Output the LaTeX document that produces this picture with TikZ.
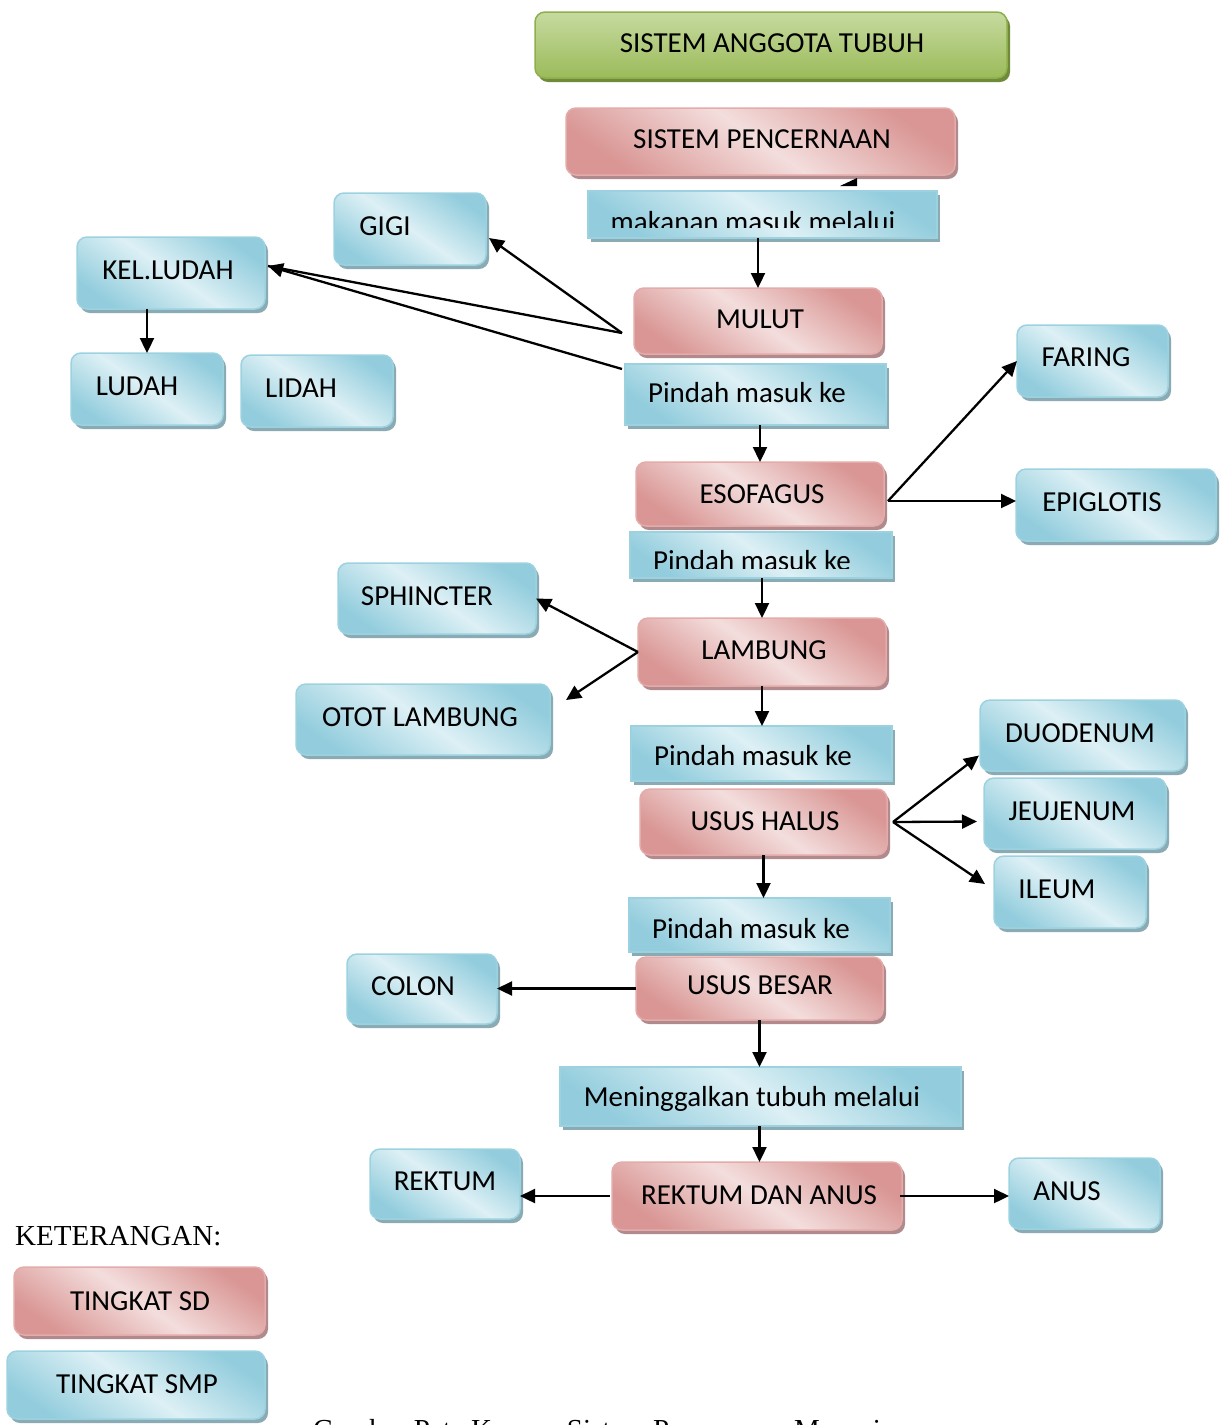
\documentclass[tikz,border=0pt]{standalone}
\usepackage{fontspec}
\setmainfont{Liberation Serif}
\newfontfamily\calfont{Carlito}
\usetikzlibrary{arrows.meta,shadows,calc}
\definecolor{pinkL}{HTML}{F3DEDD}
\definecolor{pinkD}{HTML}{D99694}
\definecolor{pinkS}{HTML}{B08A8C}
\definecolor{pinkB}{HTML}{E3ABA9}
\definecolor{blueL}{HTML}{DDF0F5}
\definecolor{blueD}{HTML}{93CDDD}
\definecolor{blueS}{HTML}{8AAAB4}
\definecolor{blueB}{HTML}{9CD2E0}
\definecolor{greenL}{HTML}{C6DAA0}
\definecolor{greenD}{HTML}{9BBB59}
\definecolor{greenS}{HTML}{6F8A38}
\definecolor{greenB}{HTML}{8DAF4C}
\tikzset{
  basebox/.style={inner sep=0pt, outer sep=0pt, line width=1.5pt},
  pinkbox/.style={basebox, rounded corners=10pt, draw=pinkB,
    top color=pinkD, bottom color=pinkD, middle color=pinkL, shading angle=-35,
    drop shadow={shadow xshift=3pt, shadow yshift=-4pt, fill=pinkS, opacity=1}},
  bluebox/.style={basebox, rounded corners=10pt, draw=blueB,
    top color=blueD, bottom color=blueD, middle color=blueL, shading angle=-35,
    drop shadow={shadow xshift=3pt, shadow yshift=-4pt, fill=blueS, opacity=1}},
  bluerect/.style={basebox, draw=blueB,
    top color=blueD, bottom color=blueD, middle color=blueL, shading angle=-35,
    drop shadow={shadow xshift=3pt, shadow yshift=-4pt, fill=blueS, opacity=1}},
  greenbox/.style={basebox, rounded corners=10pt, draw=greenB,
    top color=greenL, bottom color=greenD, shading angle=0,
    drop shadow={shadow xshift=3pt, shadow yshift=-4pt, fill=greenS, opacity=1}},
  txt/.style={font=\calfont\fontsize{29}{34}\selectfont, inner sep=0pt, anchor=base},
  serif/.style={font=\fontsize{29}{34}\selectfont, inner sep=0pt, anchor=base west},
  arr/.style={line width=2.3pt, -{Triangle[length=15pt,width=14pt]}},
  ln/.style={line width=2.3pt},
}
\newcommand\mybox[6]{\node[#1, minimum width={#5-#3}, minimum height={#6-#4}] (#2) at ({(#3+#5)/2},{(#4+#6)/2}) {};}
\begin{document}
\begin{tikzpicture}[x=1pt,y=-1pt]
\useasboundingbox (0,0) rectangle (1220,1425);
% top
\mybox{greenbox}{top}{535}{12}{1007}{78}
\node[txt] (top-t) at (772,52) {SISTEM ANGGOTA TUBUH};
\mybox{pinkbox}{sp}{566}{108}{955}{175}
\node[txt] (sp-t) at (762,148) {SISTEM PENCERNAAN};
\fill (840,186) -- (857,178) -- (857,186) -- cycle;
\mybox{bluerect}{mk}{588}{191}{937}{238}
\begin{scope}
\clip (588,191) rectangle (937,227);
\node[txt] (mk-t) at (753,231) {makanan masuk melalui};
\end{scope}
% main column
\mybox{pinkbox}{mulut}{634}{288}{882}{354}
\node[txt] (mulut-t) at (760,328) {MULUT};
\mybox{bluerect}{p1}{625}{364}{886}{425}
\node[txt] (p1-t) at (747,402) {Pindah masuk ke};
\mybox{pinkbox}{esofagus}{636}{462}{884}{526}
\node[txt] (esofagus-t) at (762,503) {ESOFAGUS};
\mybox{bluerect}{p2}{630}{532}{892}{578}
\begin{scope}
\clip (630,532) rectangle (892,568);
\node[txt] (p2-t) at (752,570) {Pindah masuk ke};
\end{scope}
\mybox{pinkbox}{lambung}{638}{618}{886}{686}
\node[txt] (lambung-t) at (764,659) {LAMBUNG};
\mybox{bluerect}{p3}{631}{726}{892}{781}
\node[txt] (p3-t) at (753,765) {Pindah masuk ke};
\mybox{pinkbox}{usushalus}{640}{789}{887}{855}
\node[txt] (usushalus-t) at (765,830) {USUS HALUS};
\mybox{pinkbox}{ususbesar}{636}{957}{883}{1020}
\node[txt] (ususbesar-t) at (760,994) {USUS BESAR};
\mybox{bluerect}{p4}{629}{898}{890}{952}
\node[txt] (p4-t) at (751,938) {Pindah masuk ke};
\mybox{bluerect}{mtm}{560}{1067}{961}{1126}
\node[txt] (mtm-t) at (752,1106) {Meninggalkan tubuh melalui};
\mybox{pinkbox}{rda}{612}{1162}{902}{1230}
\node[txt] (rda-t) at (759,1204) {REKTUM DAN ANUS};
% side boxes
\mybox{bluebox}{rektum}{370}{1149}{520}{1219}
\node[txt] (rektum-t) at (445,1190) {REKTUM};
\mybox{bluebox}{anus}{1009}{1158}{1160}{1229}
\node[txt] (anus-t) at (1067,1200) {ANUS};
\mybox{bluebox}{colon}{347}{954}{497}{1024}
\node[txt] (colon-t) at (413,995) {COLON};
\mybox{bluebox}{sphincter}{338}{563}{536}{634}
\node[txt] (sphincter-t) at (427,605) {SPHINCTER};
\mybox{bluebox}{otot}{296}{684}{550}{755}
\node[txt] (otot-t) at (420,726) {OTOT LAMBUNG};
\mybox{bluebox}{faring}{1017}{325}{1168}{397}
\node[txt] (faring-t) at (1086,366) {FARING};
\mybox{bluebox}{epiglotis}{1016}{469}{1216}{541}
\node[txt] (epiglotis-t) at (1102,511) {EPIGLOTIS};
\mybox{bluebox}{duodenum}{980}{700}{1185}{771}
\node[txt] (duodenum-t) at (1080,742) {DUODENUM};
\mybox{bluebox}{jeujenum}{984}{778}{1166}{849}
\node[txt] (jeujenum-t) at (1072,820) {JEUJENUM};
\mybox{bluebox}{ileum}{994}{856}{1146}{928}
\node[txt] (ileum-t) at (1057,898) {ILEUM};
\mybox{bluebox}{gigi}{334}{193}{486}{265}
\node[txt] (gigi-t) at (385,235) {GIGI};
\mybox{bluebox}{kelludah}{77}{237}{265}{309}
\node[txt] (kelludah-t) at (168,279) {KEL.LUDAH};
\mybox{bluebox}{ludah}{71}{353}{223}{425}
\node[txt] (ludah-t) at (137,395) {LUDAH};
\mybox{bluebox}{lidah}{241}{355}{393}{427}
\node[txt] (lidah-t) at (301,397) {LIDAH};
% legend
\node[serif] (ket) at (15,1245) {KETERANGAN:};
\mybox{pinkbox}{sd}{14}{1267}{265}{1335}
\node[txt] (sd-t) at (140,1310) {TINGKAT SD};
\mybox{bluebox}{smp}{7}{1351}{265}{1419}
\node[txt] (smp-t) at (137,1393) {TINGKAT SMP};
\begin{scope}
\clip (0,0) rectangle (1220,1425);
\node[serif] (cap) at (313,1439) {Gambar Peta Konsep Sistem Pencernaan Manusia};
\end{scope}
% connectors
\draw[arr] (mk.south -| mulut.north) -- (mulut.north);
\draw[arr] (p1.south -| esofagus.north) -- (esofagus.north);
\draw[arr] (p2.south -| lambung.north) -- (lambung.north);
\draw[arr] (lambung.south) -- (lambung.south |- p3.north);
\draw[arr] (usushalus.south) -- (usushalus.south |- p4.north);
\draw[arr] (ususbesar.south) -- (ususbesar.south |- mtm.north);
\draw[arr] (mtm.south -| ususbesar.south) -- (ususbesar.south |- rda.north);
\coordinate (m1) at (622,333);
\coordinate (m2) at (622,369);
\coordinate (kl) at ($(kelludah.east)+(3,-7)$);
\draw[arr] (m1) -- ($(gigi.east)+(3,9)$);
\draw[ln] (m1) -- (kl);
\draw[arr] (m2) -- (kl);
\draw[arr] (ludah.north |- kelludah.south) -- (ludah.north);
\coordinate (e0) at ($(esofagus.east)+(4,7)$);
\draw[arr] (e0) -- (faring.west);
\draw[arr] (e0) -- (e0 -| epiglotis.west);
\draw[arr] (lambung.west) -- (sphincter.east);
\draw[arr] (lambung.west) -- ($(otot.north east)+(16,16)$);
\coordinate (u0) at ($(usushalus.east)+(6,0)$);
\draw[arr] (u0) -- ($(duodenum.west)+(-1,20)$);
\draw[arr] (u0) -- ($(jeujenum.west)+(-7,8)$);
\draw[arr] (u0) -- ($(ileum.west)+(-9,-8)$);
\draw[arr] (ususbesar.west) -- (ususbesar.west -| colon.east);
\draw[arr] ($(rda.west)+(-2,0)$) -- (rda.west -| rektum.east);
\draw[arr] ($(rda.east)+(-2,0)$) -- (rda.east -| anus.west);
\end{tikzpicture}
\end{document}
